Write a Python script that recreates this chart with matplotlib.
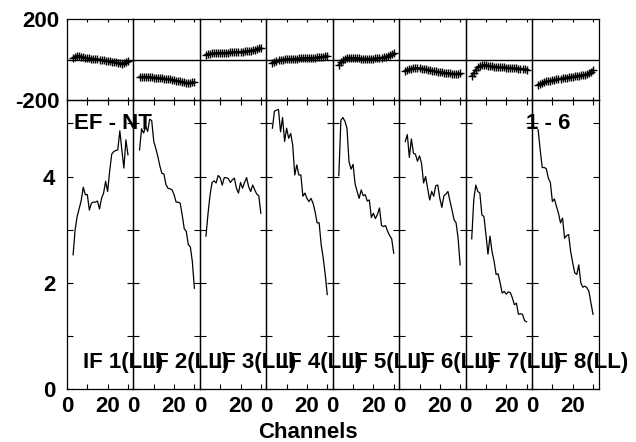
import numpy as np
import matplotlib
matplotlib.use('Agg')
import matplotlib.pyplot as plt

plt.rcParams['font.family'] = ['Liberation Sans', 'DejaVu Sans']
plt.rcParams['font.weight'] = 'bold'

channels = np.arange(3, 31)
if_labels = ["IF 1(LL)", "IF 2(LL)", "IF 3(LL)", "IF 4(LL)",
             "IF 5(LL)", "IF 6(LL)", "IF 7(LL)", "IF 8(LL)"]
amp_ticks = [0, 1, 2, 3, 4, 5]
amp_tick_labels = ["0", "", "2", "", "4", ""]
chan_ticks = [0, 10, 20, 30]
chan_tick_labels = ["0", "", "20", ""]
phase_ticks = [-200, 200]
phase_tick_labels = ["-200", "200"]

amp_if1 = [2.53, 3.00, 3.25, 3.40, 3.55, 3.80, 3.66, 3.66, 3.37, 3.50, 3.52, 3.52, 3.54, 3.39,
           3.59, 3.69, 3.91, 3.72, 4.10, 4.42, 4.47, 4.49, 4.50, 4.86, 4.50, 4.16, 4.69, 4.41]
amp_if2 = [4.50, 4.90, 4.82, 4.94, 4.85, 5.08, 5.05, 4.66, 4.53, 4.38, 4.20, 4.06, 4.05, 3.85,
           3.78, 3.77, 3.75, 3.66, 3.52, 3.52, 3.50, 3.28, 3.02, 2.97, 2.72, 2.68, 2.40, 1.90]
amp_if3 = [2.88, 3.30, 3.65, 3.89, 3.92, 3.88, 4.02, 3.98, 3.84, 3.98, 3.98, 3.96, 3.89, 3.94,
           3.97, 3.78, 3.69, 3.89, 3.78, 3.89, 3.98, 3.81, 3.72, 3.84, 3.75, 3.67, 3.64, 3.31]
amp_if4 = [4.91, 5.23, 5.25, 5.26, 4.84, 5.11, 4.66, 4.91, 4.72, 4.81, 4.59, 4.03, 4.22, 4.03,
           4.03, 3.63, 3.69, 3.59, 3.53, 3.59, 3.50, 3.34, 3.13, 3.13, 2.72, 2.47, 2.16, 1.78]
amp_if5 = [4.02, 5.06, 5.11, 5.04, 4.91, 4.28, 4.14, 4.23, 3.86, 3.72, 3.59, 3.75, 3.64, 3.66,
           3.54, 3.56, 3.23, 3.31, 3.21, 3.29, 3.41, 3.08, 3.06, 3.08, 2.97, 2.89, 2.83, 2.56]
amp_if6 = [4.66, 4.79, 4.36, 4.71, 4.44, 4.42, 4.29, 4.39, 4.25, 3.88, 4.00, 3.78, 3.56, 3.72,
           3.63, 3.83, 3.84, 3.59, 3.42, 3.64, 3.67, 3.72, 3.54, 3.37, 3.19, 3.13, 2.84, 2.34]
amp_if7 = [2.83, 3.56, 3.84, 3.72, 3.69, 3.28, 3.25, 2.91, 2.54, 2.88, 2.59, 2.41, 2.16, 2.17,
           2.00, 1.81, 1.84, 1.79, 1.83, 1.82, 1.72, 1.59, 1.62, 1.41, 1.42, 1.41, 1.29, 1.27]
amp_if8 = [4.88, 4.50, 4.17, 4.17, 4.15, 3.97, 3.89, 3.53, 3.58, 3.44, 3.31, 3.13, 3.22, 2.84,
           2.89, 2.91, 2.59, 2.38, 2.19, 2.16, 2.34, 2.00, 1.92, 1.94, 1.91, 1.84, 1.62, 1.41]

phase_if1 = [10, 15, 20, 18, 15, 12, 10, 8, 6, 5, 4, 3, 2, 0, -2, -4, -5, -6, -8, -10,
             -12, -14, -16, -18, -20, -18, -12, -5]
phase_if2 = [-85, -86, -84, -85, -87, -86, -88, -89, -90, -91, -92, -92, -94, -95, -96, -98,
             -100, -102, -104, -106, -108, -111, -113, -115, -117, -116, -113, -112]
phase_if3 = [24, 28, 30, 31, 32, 32, 33, 33, 34, 34, 35, 35, 36, 36, 37, 38, 38, 39, 40, 41,
             42, 43, 45, 46, 48, 52, 56, 60]
phase_if4 = [-16, -10, -5, -3, -2, 0, 1, 2, 3, 3, 4, 5, 5, 6, 6, 7, 7, 8, 8, 9, 9, 10, 11, 12,
             13, 15, 17, 20]
phase_if5 = [-25, -12, -2, 5, 10, 10, 9, 8, 7, 6, 6, 5, 5, 5, 4, 4, 5, 5, 6, 7, 8, 10, 12, 15,
             18, 22, 27, 32]
phase_if6 = [-57, -52, -48, -45, -43, -42, -42, -43, -44, -46, -48, -50, -52, -54, -56, -58,
             -60, -62, -63, -65, -66, -67, -68, -69, -69, -70, -69, -68]
phase_if7 = [-79, -65, -50, -38, -32, -28, -26, -27, -30, -32, -33, -34, -35, -36, -37, -38,
             -38, -39, -40, -40, -41, -42, -43, -44, -45, -46, -48, -50]
phase_if8 = [-125, -120, -115, -112, -108, -106, -104, -102, -100, -98, -96, -94, -92, -90,
             -89, -88, -86, -84, -82, -80, -79, -78, -76, -74, -72, -68, -62, -50]

amps = [amp_if1, amp_if2, amp_if3, amp_if4, amp_if5, amp_if6, amp_if7, amp_if8]
phases = [phase_if1, phase_if2, phase_if3, phase_if4, phase_if5, phase_if6, phase_if7, phase_if8]

W, H = 636, 442
fig = plt.figure(figsize=(W / 100, H / 100), dpi=100)
FS = 16

left_px, right_px = 67.0, 598.5
pw = (right_px - left_px) / 8
ptop, mid, abot = 19.3, 100.0, 389.3

for i in range(8):
    x0 = left_px + i * pw
    axp = fig.add_axes([x0 / W, 1 - mid / H, pw / W, (mid - ptop) / H])
    axa = fig.add_axes([x0 / W, 1 - abot / H, pw / W, (abot - mid) / H])

    # phase panel
    axp.plot(channels, phases[i], color='#555555', lw=1.6, zorder=2)
    axp.plot(channels, phases[i], color='black', lw=0.8, marker='+', ms=6, mew=1.0, zorder=3)
    axp.axhline(0, color='black', lw=1.0)
    axp.set_xlim(0, 32.7)
    axp.set_ylim(-200, 200)
    axp.set_xticks(chan_ticks)
    axp.tick_params(axis='x', which='both', direction='in', top=True, bottom=True,
                    length=2.4, width=0.8, labelbottom=False)
    axp.set_yticks(phase_ticks)
    axp.tick_params(axis='y', length=0, pad=5.5, labelsize=FS)
    if i == 0:
        axp.set_yticklabels(phase_tick_labels, fontweight='bold')
    else:
        axp.set_yticklabels([])

    # amplitude panel
    axa.plot(channels, amps[i], color='black', lw=0.9)
    axa.set_xlim(0, 32.7)
    axa.set_ylim(0, 5.44)
    axa.set_xticks(chan_ticks)
    axa.set_xticklabels(chan_tick_labels, fontweight='bold')
    axa.tick_params(axis='x', direction='in', top=True, bottom=True, length=3.6,
                    width=0.8, labelsize=FS, pad=5)
    axa.set_yticks(amp_ticks)
    axa.tick_params(axis='y', direction='in', left=True, right=True, length=4.3,
                    width=0.8, labelsize=FS, pad=8.5)
    if i == 0:
        axa.set_yticklabels(amp_tick_labels, fontweight='bold')
    else:
        axa.set_yticklabels([])

    for ax in (axp, axa):
        for sp in ax.spines.values():
            sp.set_linewidth(0.9)
            sp.set_color('black')
        ax.patch.set_alpha(0)

    fig.text((x0 + 15.7) / W, 1 - 368 / H, if_labels[i], fontsize=FS, fontweight='bold',
             ha='left', va='baseline')

fig.text(74 / W, 1 - 128.5 / H, "EF - NT", fontsize=FS, fontweight='bold',
         ha='left', va='baseline')
fig.text(525.7 / W, 1 - 128.5 / H, "1 - 6", fontsize=FS, fontweight='bold',
         ha='left', va='baseline')
fig.text(308 / W, 1 - 438 / H, "Channels", fontsize=FS, fontweight='bold',
         ha='center', va='baseline')

fig.savefig('out.png', dpi=100)
